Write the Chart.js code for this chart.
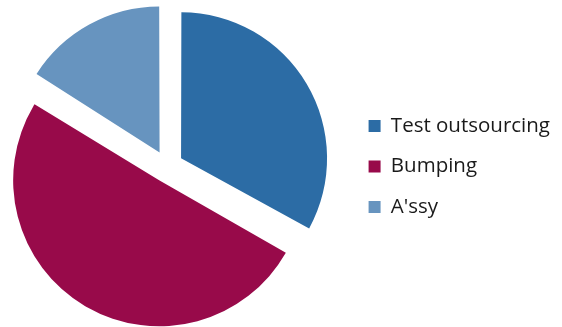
<!DOCTYPE html>
<html>
<head>
<meta charset="utf-8">
<script src="https://cdn.jsdelivr.net/npm/chart.js@4"></script>
<style>
  html, body { margin: 0; padding: 0; background: #fff; overflow: hidden; }
  #wrap { width: 562px; height: 327px; position: relative; overflow: hidden; }
  #c { position: absolute; left: -14px; top: 0; }
</style>
</head>
<body>
<div id="wrap"><canvas id="c" width="576" height="327"></canvas></div>
<script>
const categories = ["Test outsourcing", "Bumping", "A'ssy"];
const shares = [33, 51, 16];
const sliceColors = ["#2C6CA5", "#980A4A", "#6794BF"];

const PIE_RADIUS = 146;
const SLICE_OFFSET = 64; // Chart.js translates arcs by offset/4

// keep every slice at the same outer radius (Chart.js enlarges exploded slices)
const equalRadius = {
  id: 'equalRadius',
  afterDatasetsUpdate(chart) {
    const meta = chart.getDatasetMeta(0);
    meta.data.forEach(arc => {
      const fix = 1 - Math.sin(Math.min(Math.PI, arc.circumference || 0));
      arc.outerRadius = PIE_RADIUS - (SLICE_OFFSET / 4) * fix;
    });
  }
};

new Chart(document.getElementById('c'), {
  type: 'pie',
  data: {
    labels: categories,
    datasets: [{
      data: shares,
      backgroundColor: sliceColors,
      borderWidth: 0,
      offset: SLICE_OFFSET,
      hoverOffset: 0
    }]
  },
  options: {
    responsive: false,
    animation: false,
    radius: PIE_RADIUS,
    layout: { padding: { left: 0, top: 6, right: 2, bottom: 0 } },
    plugins: {
      tooltip: { enabled: false },
      legend: {
        position: 'right',
        labels: {
          boxWidth: 12,
          boxHeight: 12,
          padding: 20,
          color: '#1a1a1a',
          font: { family: 'Open Sans', size: 20.5 }
        }
      }
    }
  },
  plugins: [equalRadius]
});
</script>
</body>
</html>
